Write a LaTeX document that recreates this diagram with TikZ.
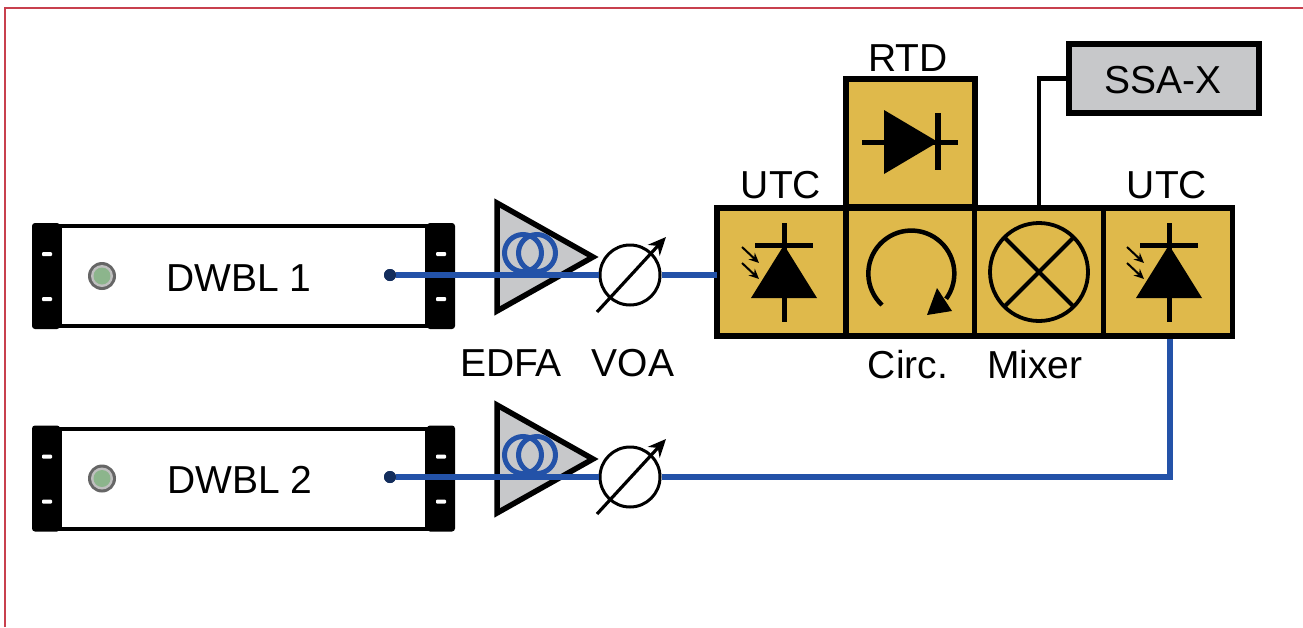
\documentclass[tikz,border=0pt]{standalone}
\usepackage{fontspec}
\setmainfont{Liberation Sans}
\usetikzlibrary{arrows.meta}
\definecolor{gold}{HTML}{DFB94B}
\definecolor{greybox}{HTML}{C7C8CA}
\definecolor{fibre}{HTML}{2352A8}
\definecolor{frame}{HTML}{C8404E}
\tikzset{
  x=1pt,y=-1pt,
  lbl/.style={inner sep=0pt,font=\fontsize{39}{44}\selectfont,text=black},
  cell/.style={draw=black,line width=5.5pt,fill=gold,minimum width=129pt,minimum height=128pt,inner sep=0pt,outer sep=0pt},
  fib/.style={draw=fibre,line width=6pt},
  voasym/.style={circle,draw=black,line width=3pt,fill=white,minimum size=60pt,inner sep=0pt,outer sep=1.5pt},
  rack/.style={draw=black,line width=4pt,fill=white,minimum width=367pt,minimum height=100pt,inner sep=0pt,outer sep=0pt},
  port/.style={circle,fill=black!45!fibre,minimum size=12pt,inner sep=0pt},
  photodiode/.pic={
    \draw[line width=5pt] (0,-47)--(0,52);
    \draw[line width=5pt] (-29,-25)--(29,-25);
    \fill (0,-25)--(33,28)--(-33,28)--cycle;
    \draw[line width=2pt,-{Stealth[length=10pt,width=9pt]}] (-42,-23)--(-25,-7);
    \draw[line width=2pt,-{Stealth[length=10pt,width=9pt]}] (-42,-7)--(-25,9);
  },
  edfasym/.pic={
    \draw[line width=5.5pt,fill=greybox,line join=miter] (0,-54)--(96,0)--(0,54)--cycle;
    \draw[draw=fibre,line width=5pt] (26,-4) circle[radius=18.5];
    \draw[draw=fibre,line width=5pt] (40,-4) circle[radius=18.5];
  },
  rackends/.pic={
    \fill[rounded corners=3pt] (0,0) rectangle (28,106);
    \fill[rounded corners=3pt] (395,0) rectangle (423,106);
    \foreach \px in {15,409}{
      \foreach \py in {31,76}{
        \fill[white,rounded corners=1pt] (\px-5,\py-2) rectangle (\px+5,\py+2);
      }
    }
  },
  ledsym/.pic={
    \fill[black!60] (0,0) circle[radius=14];
    \fill[white!75!black] (0,0) circle[radius=11];
    \fill[green!35!black!45!white] (0,0) circle[radius=8.5];
  },
}
\begin{document}
\begin{tikzpicture}
\useasboundingbox (0,0) rectangle (1303,627);
\fill[white] (0,0) rectangle (1303,627);
\draw[frame,line width=2pt] (5,627)--(5,8)--(1303,8);

% lasers
\node[rack] (dwbl1) at (243.5,276) {};
\node[rack] (dwbl2) at (243.5,478.5) {};
\pic at (32,223) {rackends};
\pic at (32,425.5) {rackends};
\pic at (102,276) {ledsym};
\pic at (102,478.5) {ledsym};
\node[lbl] (t1) at (239,278) {DWBL 1};
\node[lbl] (t2) at (240,480) {DWBL 2};
\node[port] (p1) at (390,275) {};
\node[port] (p2) at (390,477) {};

% amplifiers
\pic at (497,257) {edfasym};
\pic at (497,459) {edfasym};
\node[lbl] (edfa) at (511,363) {EDFA};
\node[lbl] (voa) at (633,363) {VOA};

% cells
\node[cell] (rtd) at (910.5,143) {};
\node[cell] (utc1) at (781.5,272) {};
\node[cell] (circ) at (910.5,272) {};
\node[cell] (mix) at (1039,272) {};
\node[cell] (utc2) at (1168,272) {};
\node[draw=black,line width=5.5pt,fill=greybox,minimum width=190pt,minimum height=69pt,inner sep=0pt,outer sep=0pt] (ssa) at (1164,78.5) {};
\node[lbl] (t8) at (1163,80) {SSA-X};
\draw[line width=4.5pt] (mix.north) |- (ssa.west);

% variable attenuators
\node[voasym] (v1) at (630,275) {};
\node[voasym] (v2) at (630,477) {};

% fibres
\draw[fib] (p1) -- (v1.west);
\draw[fib] (v1.east) -- (utc1.west |- v1.east);
\draw[fib] (p2) -- (v2.west);
\draw[fib,line join=miter] (v2.east) -| (1170,339);
\node[port] at (390,275) {};
\node[port] at (390,477) {};

% attenuator arrows
\foreach \vy in {275,477}{
  \draw[line width=3.2pt,-{Stealth[length=18pt,width=16pt]}] (597,\vy+37)--(666,\vy-38);
}

% symbols
\pic at (784,270) {photodiode};
\pic at (1169,270) {photodiode};
% RTD diode
\draw[line width=5pt] (862,142)--(958,142);
\fill (884,110)--(938,142)--(884,174)--cycle;
\draw[line width=5.5pt] (938,113)--(938,170);
% circulator
\draw[line width=4.5pt] (882,305) arc[start angle=133,end angle=396,radius=43];
\fill (927,315)--(937,288)--(952,311)--cycle;
% mixer
\draw[line width=3.8pt] (1039,272) circle[radius=49];
\draw[line width=4pt] (1004.4,237.4)--(1073.6,306.6);
\draw[line width=4pt] (1004.4,306.6)--(1073.6,237.4);

% labels
\node[lbl] (t3) at (908,58) {RTD};
\node[lbl] (t4) at (781,185) {UTC};
\node[lbl] (t5) at (1167,185) {UTC};
\node[lbl] (t6) at (908,365) {Circ.};
\node[lbl] (t7) at (1035,365) {Mixer};
\end{tikzpicture}
\end{document}
